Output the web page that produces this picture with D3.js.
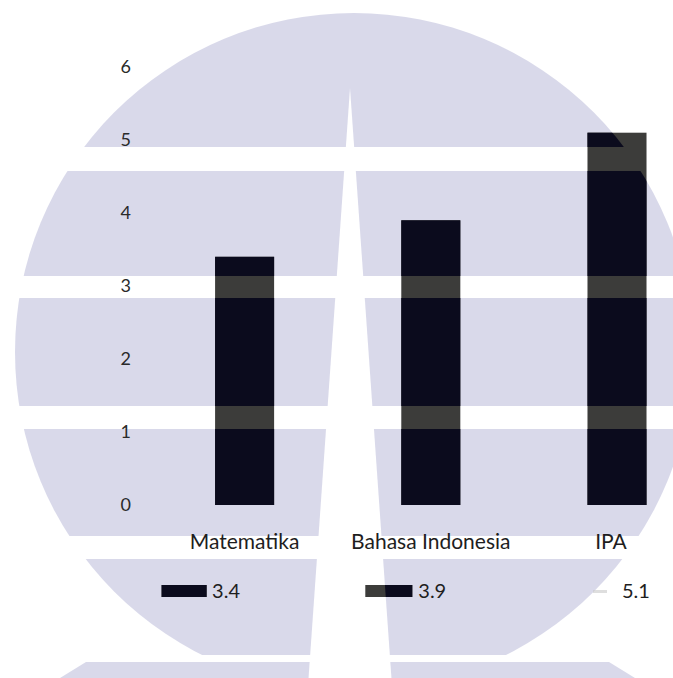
<!DOCTYPE html>
<html>
<head>
<meta charset="utf-8">
<script src="https://cdn.jsdelivr.net/npm/d3@7"></script>
<style>
  html, body { margin: 0; padding: 0; background: #ffffff; }
  svg { display: block; }
</style>
</head>
<body>
<svg id="chart" width="673" height="678"></svg>
<script>
// ---- data ----
const categories = ["Matematika", "Bahasa Indonesia", "IPA"];
const values = [3.4, 3.9, 5.1];
const yTicks = [0, 1, 2, 3, 4, 5, 6];
const tableLabels = ["3.4", "3.9", "5.1"];

// ---- setup ----
const W = 673, H = 678;
const svg = d3.select("#chart");
const defs = svg.append("defs");

const y = d3.scaleLinear().domain([0, 6]).range([505, 67]);
const x = d3.scaleBand().domain(categories).range([151.5, 710.1])
  .paddingInner(0.683).paddingOuter(0.3415);

// ---- watermark mask (logo shape) ----
const mask = defs.append("mask").attr("id", "wm")
  .attr("maskUnits", "userSpaceOnUse")
  .attr("x", 0).attr("y", 0).attr("width", W).attr("height", H);
mask.append("circle").attr("cx", 354).attr("cy", 352).attr("r", 339).attr("fill", "#fff");
mask.append("polygon").attr("points", "86,662 609,662 635,678 60,678").attr("fill", "#fff");
const whiteBands = [[147, 171], [276, 298], [406, 429], [536, 559], [655, 662]];
whiteBands.forEach(b => {
  mask.append("rect").attr("x", 0).attr("y", b[0]).attr("width", W).attr("height", b[1] - b[0]).attr("fill", "#000");
});
mask.append("polygon").attr("points", "350,88 307,700 393,700").attr("fill", "#000");

// background watermark
svg.append("rect").attr("width", W).attr("height", H).attr("fill", "#d9d9ea").attr("mask", "url(#wm)");

const gray = "#3c3c3a", navy = "#0b0b1d";

// ---- bars ----
function drawBars(fill, useMask) {
  const g = svg.append("g");
  if (useMask) g.attr("mask", "url(#wm)");
  g.selectAll("rect").data(values).join("rect")
    .attr("x", (d, i) => x(categories[i]))
    .attr("y", d => y(d))
    .attr("width", x.bandwidth())
    .attr("height", d => y(0) - y(d))
    .attr("fill", fill);
}
drawBars(gray, false);
drawBars(navy, true);

// ---- y axis labels ----
const font = "Lato, 'Open Sans', sans-serif";
const yAxis = d3.axisLeft(y).tickValues(yTicks).tickSize(0).tickPadding(0).tickFormat(d3.format("d"));
const ya = svg.append("g").attr("transform", "translate(131,0)").call(yAxis);
ya.select(".domain").remove();
ya.selectAll("text").attr("font-family", font).attr("font-size", 18).attr("fill", "#2a2a2a");

// ---- x category labels ----
const labelShift = [0, 0, -6];
svg.append("g").selectAll("text").data(categories).join("text")
  .attr("x", (d, i) => x(d) + x.bandwidth() / 2 + labelShift[i])
  .attr("y", 549)
  .attr("text-anchor", "middle")
  .attr("font-family", font).attr("font-size", 21).attr("fill", "#1e1e1e")
  .text(d => d);

// ---- data table row (legend keys + values) ----
const keyOffsets = [-83, -65.5, -24];
const keyWidths = [45, 47, 14];
const textOffsets = [-32.5, -12.5, 5];
const row = svg.append("g");
function drawKeys(fill, useMask) {
  const g = row.append("g");
  if (useMask) g.attr("mask", "url(#wm)");
  g.selectAll("rect").data(categories.slice(0, 2)).join("rect")
    .attr("x", (d, i) => x(d) + x.bandwidth() / 2 + keyOffsets[i])
    .attr("y", 585)
    .attr("width", (d, i) => keyWidths[i])
    .attr("height", 12)
    .attr("fill", fill);
}
drawKeys(gray, false);
drawKeys(navy, true);
// faint key for third series
row.append("rect")
  .attr("x", x(categories[2]) + x.bandwidth() / 2 + keyOffsets[2])
  .attr("y", 590).attr("width", keyWidths[2]).attr("height", 3)
  .attr("fill", "#c8c8c8").attr("opacity", 0.6);

row.selectAll("text").data(tableLabels).join("text")
  .attr("x", (d, i) => x(categories[i]) + x.bandwidth() / 2 + textOffsets[i])
  .attr("y", 598)
  .attr("font-family", font).attr("font-size", 20).attr("fill", "#1e1e1e")
  .text(d => d);
</script>
</body>
</html>
